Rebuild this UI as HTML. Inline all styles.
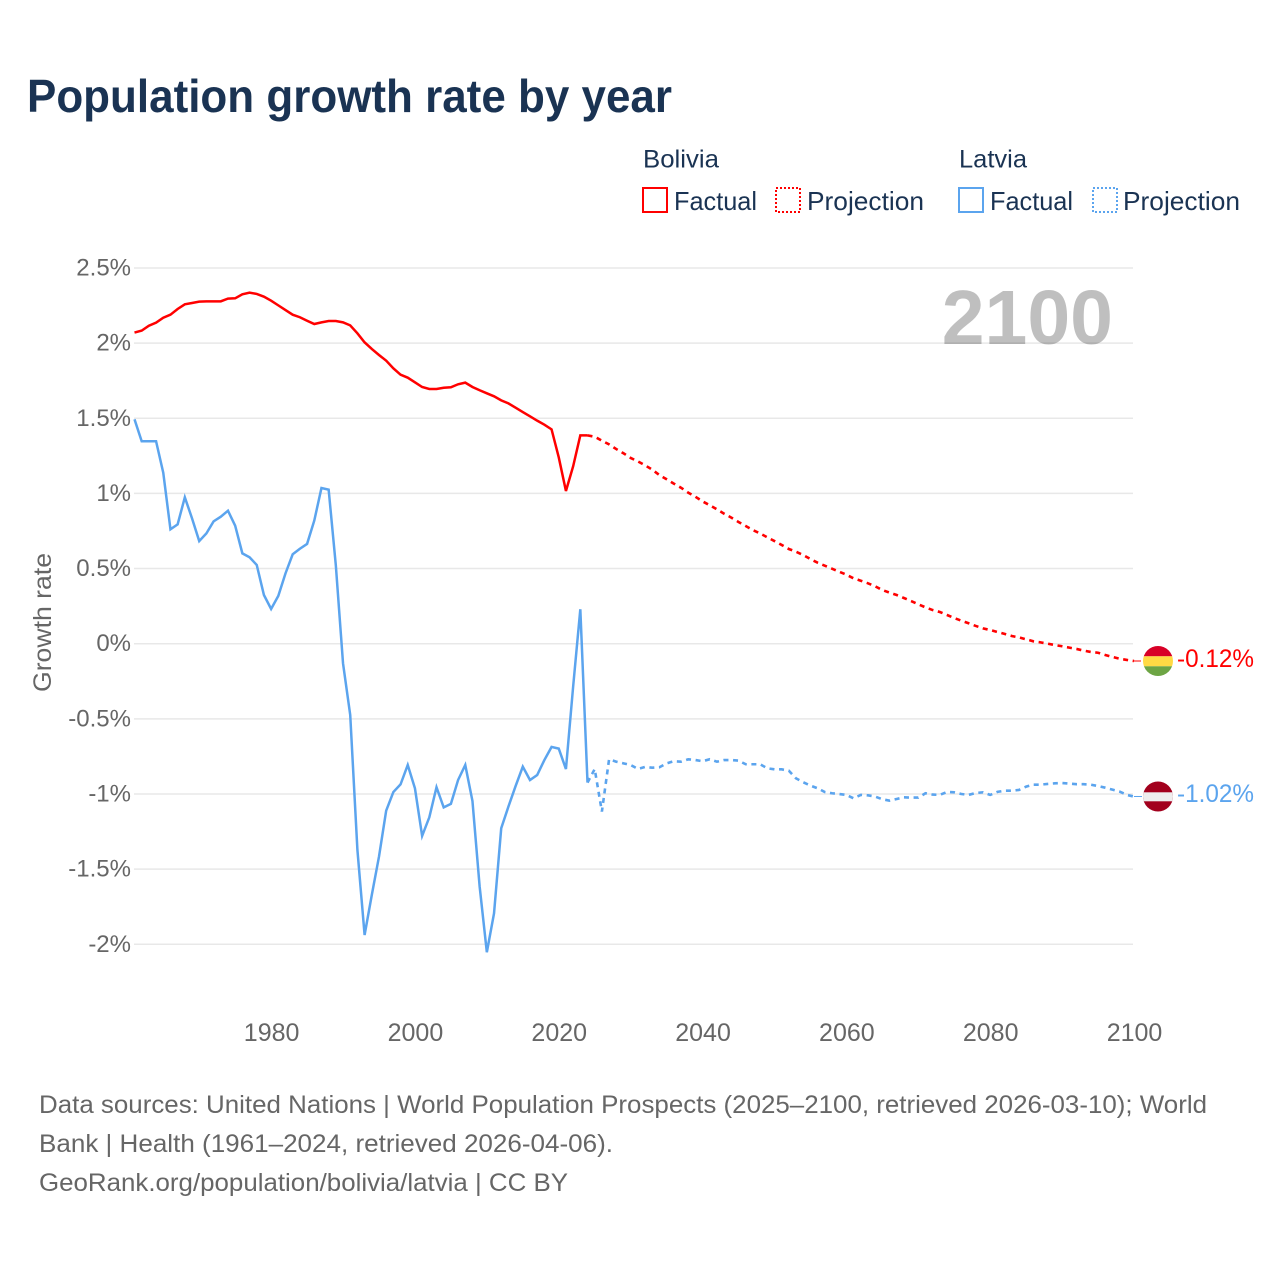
<!DOCTYPE html>
<html lang="en">
<head>
<meta charset="utf-8">
<title>Population growth rate by year</title>
<style>
html,body{margin:0;padding:0;background:#fff;width:1280px;height:1280px;overflow:hidden}
svg{display:block}
text{font-family:"Liberation Sans",sans-serif}
.legend{fill:#1a3353}
.tick{fill:#666}
.foot{fill:#666;font-size:25px}
</style>
</head>
<body>
<svg id="chart" width="1280" height="1280" viewBox="0 0 1280 1280" xmlns="http://www.w3.org/2000/svg">
  <rect width="1280" height="1280" fill="#fff"/>
  <text x="27" y="112" font-size="46" font-weight="700" fill="#1a3353" textLength="645" lengthAdjust="spacingAndGlyphs">Population growth rate by year</text>

  <g id="legend">
    <text class="legend" x="643" y="167.5" font-size="25" textLength="76" lengthAdjust="spacingAndGlyphs">Bolivia</text>
    <text class="legend" x="959" y="167.5" font-size="25" textLength="68" lengthAdjust="spacingAndGlyphs">Latvia</text>
    <g>
      <rect x="643" y="188" width="24" height="24" fill="none" stroke="#ff0000" stroke-width="2"/>
      <text class="legend" x="674" y="210" font-size="26" textLength="83" lengthAdjust="spacingAndGlyphs">Factual</text>
    </g>
    <g>
      <rect x="776" y="188" width="24" height="24" fill="none" stroke="#ff0000" stroke-width="2" stroke-dasharray="2 2"/>
      <text class="legend" x="807" y="210" font-size="26" textLength="117" lengthAdjust="spacingAndGlyphs">Projection</text>
    </g>
    <g>
      <rect x="959" y="188" width="24" height="24" fill="none" stroke="#5ba4ee" stroke-width="2"/>
      <text class="legend" x="990" y="210" font-size="26" textLength="83" lengthAdjust="spacingAndGlyphs">Factual</text>
    </g>
    <g>
      <rect x="1093" y="188" width="24" height="24" fill="none" stroke="#5ba4ee" stroke-width="2" stroke-dasharray="2 2"/>
      <text class="legend" x="1123" y="210" font-size="26" textLength="117" lengthAdjust="spacingAndGlyphs">Projection</text>
    </g>
  </g>

  <g id="grid"></g>
  <g id="yticks"></g>
  <g id="xticks"></g>
  <text class="tick" transform="translate(51,622.5) rotate(-90)" text-anchor="middle" font-size="25" textLength="139" lengthAdjust="spacingAndGlyphs">Growth rate</text>
  <text x="1113" y="344" text-anchor="end" font-size="77" font-weight="700" fill="#000" fill-opacity="0.25">2100</text>
  <g id="series"></g>

  <defs>
    <clipPath id="clip-bo"><circle cx="1158" cy="661" r="15"/></clipPath>
    <clipPath id="clip-lv"><circle cx="1158" cy="796.5" r="15"/></clipPath>
  </defs>
  <g id="end-bolivia">
    <line id="conn-bo" x1="1134" x2="1141" y1="661" y2="661" stroke="#ff0000" stroke-width="1"/>
    <g clip-path="url(#clip-bo)">
      <rect x="1143" y="646" width="30" height="10.3" fill="#d80027"/>
      <rect x="1143" y="656.3" width="30" height="10" fill="#ffda44"/>
      <rect x="1143" y="666.3" width="30" height="10" fill="#6da544"/>
    </g>
    <text x="1177" y="667" font-size="25" fill="#ff0000" textLength="77" lengthAdjust="spacingAndGlyphs">-0.12%</text>
  </g>
  <g id="end-latvia">
    <line id="conn-lv" x1="1134" x2="1142" y1="796.5" y2="796.5" stroke="#5ba4ee" stroke-width="1"/>
    <g clip-path="url(#clip-lv)">
      <rect x="1143" y="781.5" width="30" height="30" fill="#a2001d"/>
      <rect x="1143" y="792.3" width="30" height="9" fill="#eeeeee"/>
    </g>
    <text x="1177" y="802" font-size="25" fill="#5ba4ee" textLength="77" lengthAdjust="spacingAndGlyphs">-1.02%</text>
  </g>

  <g>
    <text class="foot" x="39" y="1113" textLength="1168" lengthAdjust="spacingAndGlyphs">Data sources: United Nations | World Population Prospects (2025–2100, retrieved 2026-03-10); World</text>
    <text class="foot" x="39" y="1152" textLength="574" lengthAdjust="spacingAndGlyphs">Bank | Health (1961–2024, retrieved 2026-04-06).</text>
    <text class="foot" x="39" y="1191" textLength="529" lengthAdjust="spacingAndGlyphs">GeoRank.org/population/bolivia/latvia | CC BY</text>
  </g>
</svg>

<script>
const factualYears = [1961,1962,1963,1964,1965,1966,1967,1968,1969,1970,1971,1972,1973,1974,1975,1976,1977,1978,1979,1980,1981,1982,1983,1984,1985,1986,1987,1988,1989,1990,1991,1992,1993,1994,1995,1996,1997,1998,1999,2000,2001,2002,2003,2004,2005,2006,2007,2008,2009,2010,2011,2012,2013,2014,2015,2016,2017,2018,2019,2020,2021,2022,2023,2024];
const projectionYears = [2024,2025,2026,2027,2028,2029,2030,2031,2032,2033,2034,2035,2036,2037,2038,2039,2040,2041,2042,2043,2044,2045,2046,2047,2048,2049,2050,2051,2052,2053,2054,2055,2056,2057,2058,2059,2060,2061,2062,2063,2064,2065,2066,2067,2068,2069,2070,2071,2072,2073,2074,2075,2076,2077,2078,2079,2080,2081,2082,2083,2084,2085,2086,2087,2088,2089,2090,2091,2092,2093,2094,2095,2096,2097,2098,2099,2100];
const boliviaFactual = [2.07,2.083,2.116,2.136,2.169,2.189,2.227,2.258,2.267,2.276,2.278,2.278,2.278,2.296,2.298,2.325,2.336,2.327,2.309,2.282,2.251,2.22,2.189,2.172,2.149,2.127,2.138,2.147,2.147,2.138,2.118,2.065,2.005,1.961,1.921,1.883,1.832,1.79,1.77,1.739,1.708,1.695,1.695,1.703,1.706,1.726,1.737,1.708,1.686,1.666,1.646,1.619,1.599,1.57,1.541,1.513,1.484,1.457,1.426,1.24,1.016,1.18,1.386,1.386];
const boliviaProjection = [1.386,1.377,1.351,1.326,1.295,1.267,1.236,1.213,1.187,1.158,1.122,1.094,1.065,1.038,1.005,0.978,0.947,0.921,0.894,0.865,0.839,0.81,0.783,0.756,0.734,0.708,0.683,0.657,0.63,0.612,0.59,0.563,0.539,0.519,0.499,0.479,0.459,0.435,0.419,0.402,0.382,0.357,0.34,0.324,0.304,0.284,0.262,0.242,0.224,0.211,0.191,0.171,0.153,0.136,0.118,0.102,0.091,0.078,0.065,0.051,0.042,0.029,0.016,0.009,0,-0.009,-0.017,-0.026,-0.035,-0.046,-0.055,-0.06,-0.075,-0.088,-0.1,-0.108,-0.115];
const latviaFactual = [1.493,1.347,1.347,1.347,1.138,0.761,0.794,0.974,0.834,0.683,0.734,0.814,0.845,0.885,0.785,0.601,0.575,0.524,0.324,0.231,0.318,0.468,0.595,0.632,0.664,0.819,1.036,1.025,0.52,-0.131,-0.474,-1.372,-1.938,-1.672,-1.417,-1.111,-0.987,-0.936,-0.807,-0.962,-1.279,-1.155,-0.955,-1.089,-1.066,-0.907,-0.807,-1.047,-1.616,-2.053,-1.794,-1.228,-1.084,-0.947,-0.818,-0.907,-0.874,-0.774,-0.687,-0.698,-0.834,-0.286,0.229,-0.924];
const latviaProjection = [-0.924,-0.834,-1.117,-0.769,-0.785,-0.796,-0.807,-0.833,-0.82,-0.825,-0.822,-0.796,-0.782,-0.785,-0.769,-0.774,-0.782,-0.769,-0.785,-0.774,-0.774,-0.778,-0.802,-0.802,-0.802,-0.829,-0.836,-0.836,-0.845,-0.896,-0.922,-0.944,-0.962,-0.987,-0.995,-1,-1.006,-1.029,-1.006,-1.009,-1.017,-1.035,-1.044,-1.033,-1.022,-1.024,-1.024,-0.995,-1.004,-1.006,-0.986,-0.989,-1,-1.006,-0.993,-0.989,-1.006,-0.986,-0.978,-0.978,-0.973,-0.951,-0.938,-0.938,-0.933,-0.929,-0.927,-0.931,-0.935,-0.935,-0.938,-0.947,-0.958,-0.971,-0.984,-1.006,-1.017];
const yTickValues = [2.5,2,1.5,1,0.5,0,-0.5,-1,-1.5,-2];
const yTickLabels = ["2.5%","2%","1.5%","1%","0.5%","0%","-0.5%","-1%","-1.5%","-2%"];
const xTickValues = [1980,2000,2020,2040,2060,2080,2100];
const xTickLabels = ["1980","2000","2020","2040","2060","2080","2100"];

const NS = "http://www.w3.org/2000/svg";
function xScale(year){ return 134.5 + (year - 1961) * (1134 - 134.5) / 139; }
function yScale(v){ return 643.7 - v * 150.3; }
function make(tag, parent){ const el = document.createElementNS(NS, tag); parent.appendChild(el); return el; }

const gridG = document.getElementById("grid");
const yG = document.getElementById("yticks");
yTickValues.forEach(function(v, i){
  const ln = make("line", gridG);
  
  
  ln.setAttribute("x1", 134); ln.setAttribute("x2", 1133);
  ln.setAttribute("y1", yScale(v)); ln.setAttribute("y2", yScale(v));
  ln.setAttribute("stroke", "#e8e8e8"); ln.setAttribute("stroke-width", 1.5);
  const t = make("text", yG);
  
  
  t.setAttribute("class", "tick");
  t.setAttribute("x", 131); t.setAttribute("y", yScale(v) + 7.5);
  t.setAttribute("text-anchor", "end"); t.setAttribute("font-size", 24);
  t.textContent = yTickLabels[i];
});

const xG = document.getElementById("xticks");
xTickValues.forEach(function(yr, i){
  const t = make("text", xG);
  
  
  t.setAttribute("class", "tick");
  t.setAttribute("x", xScale(yr) + 0.5); t.setAttribute("y", 1041);
  t.setAttribute("text-anchor", "middle"); t.setAttribute("font-size", 25);
  t.textContent = xTickLabels[i];
});

const seriesG = document.getElementById("series");
function pathFor(years, values){
  return values.map(function(v, i){ return (i ? "L" : "M") + xScale(years[i]).toFixed(2) + " " + yScale(v).toFixed(2); }).join(" ");
}

const lineLatviaFactual = make("path", seriesG);


lineLatviaFactual.setAttribute("d", pathFor(factualYears, latviaFactual));
lineLatviaFactual.setAttribute("fill", "none");
lineLatviaFactual.setAttribute("stroke", "#5ba4ee");
lineLatviaFactual.setAttribute("stroke-width", 2.5);

const lineLatviaProjection = make("path", seriesG);


lineLatviaProjection.setAttribute("d", pathFor(projectionYears, latviaProjection));
lineLatviaProjection.setAttribute("fill", "none");
lineLatviaProjection.setAttribute("stroke", "#5ba4ee");
lineLatviaProjection.setAttribute("stroke-width", 2.6);
lineLatviaProjection.setAttribute("stroke-dasharray", "5 4.6");

const lineBoliviaFactual = make("path", seriesG);


lineBoliviaFactual.setAttribute("d", pathFor(factualYears, boliviaFactual));
lineBoliviaFactual.setAttribute("fill", "none");
lineBoliviaFactual.setAttribute("stroke", "#ff0000");
lineBoliviaFactual.setAttribute("stroke-width", 2.5);

const lineBoliviaProjection = make("path", seriesG);


lineBoliviaProjection.setAttribute("d", pathFor(projectionYears, boliviaProjection));
lineBoliviaProjection.setAttribute("fill", "none");
lineBoliviaProjection.setAttribute("stroke", "#ff0000");
lineBoliviaProjection.setAttribute("stroke-width", 2.6);
lineBoliviaProjection.setAttribute("stroke-dasharray", "5 4.6");
</script>
</body>
</html>
